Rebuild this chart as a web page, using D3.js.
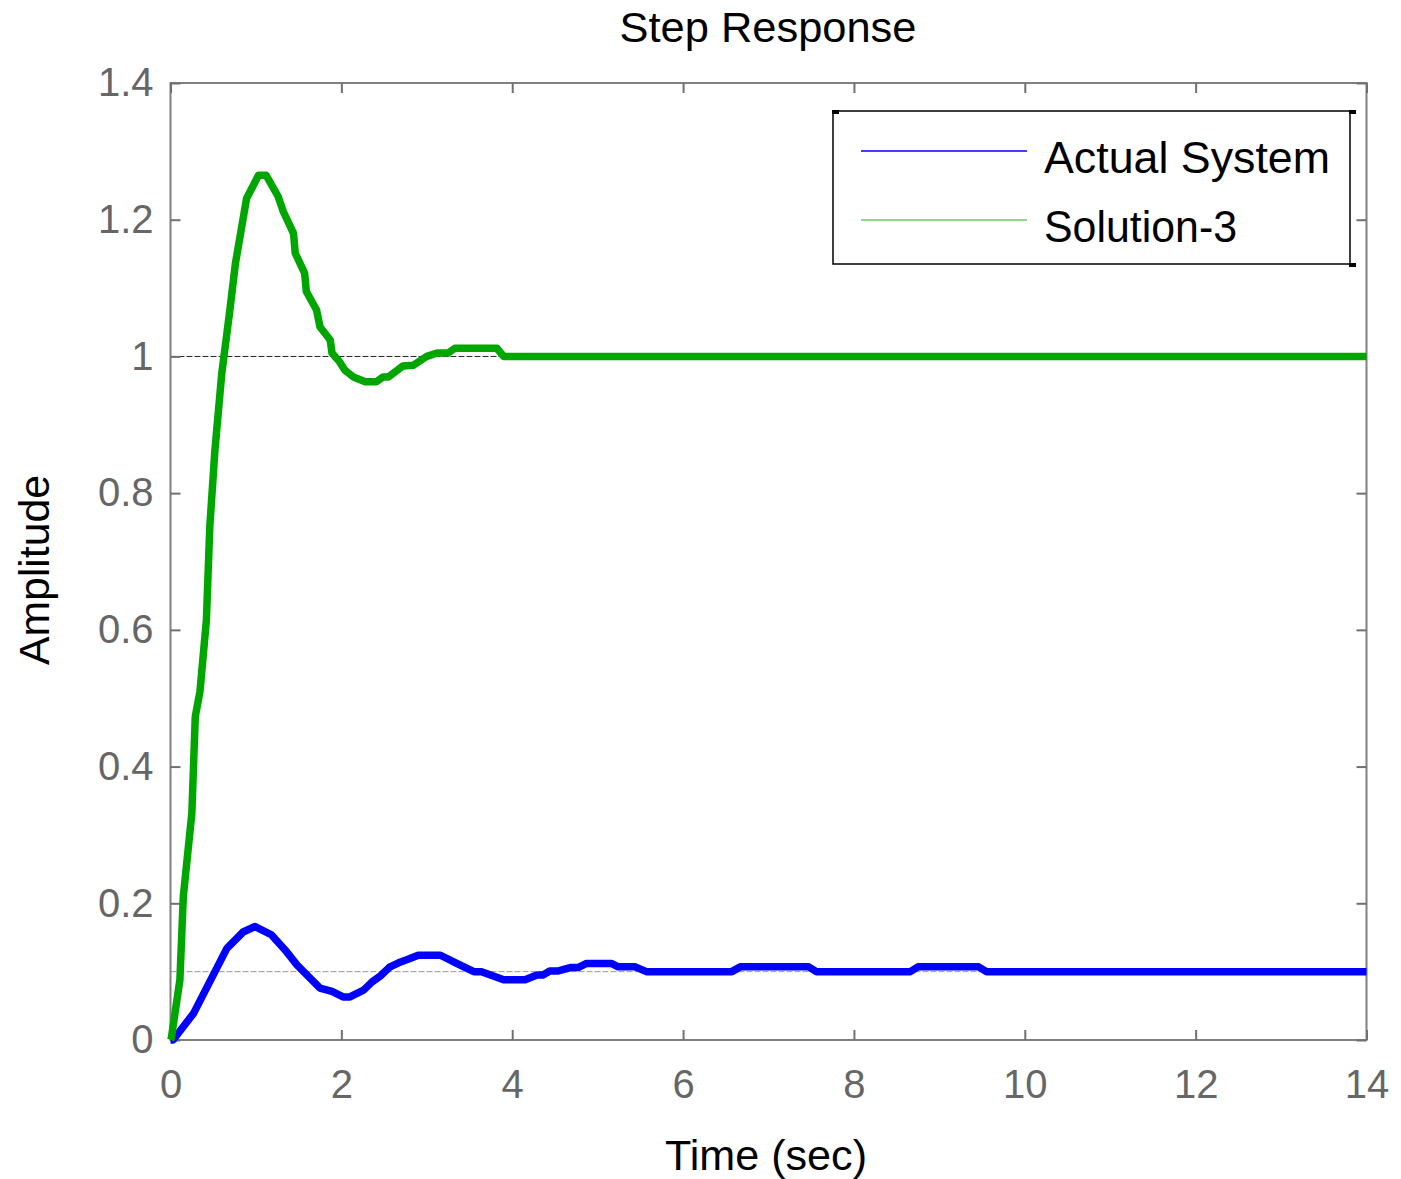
<!DOCTYPE html>
<html>
<head>
<meta charset="utf-8">
<script src="https://cdn.jsdelivr.net/npm/d3@7"></script>
<style>
  body { margin: 0; background: #fff; }
  text { font-family: "Liberation Sans", Arial, sans-serif; }
</style>
</head>
<body>
<svg id="drawing_region"></svg>
<script>
// step response samples
const actualT = [0, 0.03, 0.27, 0.66, 0.85, 0.99, 1.18, 1.36, 1.48, 1.75, 1.89, 2.02, 2.10, 2.26, 2.36, 2.45, 2.57, 2.67, 2.78, 2.90, 3.16, 3.35, 3.55, 3.64, 3.90, 4.15, 4.29, 4.36, 4.44, 4.54, 4.68, 4.77, 4.87, 5.16, 5.24, 5.44, 5.57, 6.57, 6.67, 7.47, 7.56, 8.66, 8.75, 9.46, 9.55, 14];
const actualY = [0, 0, 0.039, 0.134, 0.158, 0.166, 0.154, 0.129, 0.110, 0.076, 0.071, 0.063, 0.063, 0.073, 0.085, 0.093, 0.107, 0.113, 0.118, 0.124, 0.124, 0.112, 0.100, 0.100, 0.088, 0.088, 0.095, 0.095, 0.101, 0.101, 0.106, 0.106, 0.112, 0.112, 0.107, 0.107, 0.100, 0.100, 0.107, 0.107, 0.100, 0.100, 0.107, 0.107, 0.100, 0.100];

const solT = [0, 0.01, 0.11, 0.15, 0.25, 0.29, 0.345, 0.42, 0.46, 0.52, 0.60, 0.69, 0.76, 0.89, 1.03, 1.12, 1.26, 1.32, 1.44, 1.46, 1.57, 1.59, 1.71, 1.75, 1.87, 1.89, 1.98, 2.04, 2.14, 2.28, 2.41, 2.49, 2.55, 2.72, 2.84, 3.00, 3.12, 3.25, 3.33, 3.82, 3.90, 14];
const solY = [0, 0.003, 0.088, 0.21, 0.332, 0.473, 0.51, 0.614, 0.751, 0.863, 0.975, 1.063, 1.136, 1.231, 1.265, 1.265, 1.234, 1.212, 1.180, 1.151, 1.122, 1.095, 1.068, 1.043, 1.024, 1.005, 0.992, 0.980, 0.970, 0.963, 0.963, 0.970, 0.970, 0.986, 0.987, 1.000, 1.005, 1.005, 1.012, 1.012, 1.000, 1.000];

const finalValues = [0.1, 1];
const xTicks = [0, 2, 4, 6, 8, 10, 12, 14];
const yTicks = [0, 0.2, 0.4, 0.6, 0.8, 1, 1.2, 1.4];
const seriesNames = ['Actual System', 'Solution-3'];
const seriesColors = ['#0000ff', '#00a600'];

const W = 1401, H = 1179;
const margin = { top: 83, right: 34, bottom: 139, left: 170.5 };
const innerW = 1366.5 - margin.left;
const innerH = 1040 - margin.top;

const svg = d3.select('#drawing_region')
    .attr('width', W)
    .attr('height', H);

const g = svg.append('g')
    .attr('transform', `translate(${margin.left}, ${margin.top})`);

const x = d3.scaleLinear().domain([0, 14]).range([0, innerW]);
const y = d3.scaleLinear().domain([0, 1.4]).range([innerH, 0]);

// steady state reference lines
g.append('line')
    .attr('x1', 0).attr('x2', innerW)
    .attr('y1', y(finalValues[1])).attr('y2', y(finalValues[1]))
    .attr('stroke', '#222').attr('stroke-width', 1)
    .attr('stroke-dasharray', '6,2');
g.append('line')
    .attr('x1', 0).attr('x2', innerW)
    .attr('y1', y(finalValues[0])).attr('y2', y(finalValues[0]))
    .attr('stroke', '#999').attr('stroke-width', 1)
    .attr('stroke-dasharray', '6,2');

// frame
g.append('rect')
    .attr('width', innerW).attr('height', innerH)
    .attr('fill', 'none').attr('stroke', '#808080').attr('stroke-width', 2);

// axes with inward ticks
const tickLen = 10;
const xAxis = g.append('g').attr('transform', `translate(0, ${innerH})`)
    .call(d3.axisBottom(x).tickValues(xTicks).tickSize(-tickLen).tickPadding(30).tickFormat(d3.format('d')));
const xAxisTop = g.append('g')
    .call(d3.axisTop(x).tickValues(xTicks).tickSize(-tickLen).tickFormat(''));
const yAxis = g.append('g')
    .call(d3.axisLeft(y).tickValues(yTicks).tickSize(-tickLen).tickPadding(17).tickFormat(d => d3.format('')(+d.toFixed(1))));
const yAxisRight = g.append('g').attr('transform', `translate(${innerW}, 0)`)
    .call(d3.axisRight(y).tickValues(yTicks).tickSize(-tickLen).tickFormat(''));

[xAxis, xAxisTop, yAxis, yAxisRight].forEach(a => {
    a.select('.domain').remove();
    a.selectAll('.tick line').attr('stroke', '#707070').attr('stroke-width', 2);
    a.selectAll('.tick text')
        .attr('fill', '#666')
        .style('font-size', '40px')
        .style('font-family', '"Liberation Sans", Arial, sans-serif');
});
xAxis.selectAll('.tick text').attr('dy', '0.71em');

// curves
const line = d3.line()
    .x(d => x(d[0]))
    .y(d => y(d[1]));

const series = [
    d3.zip(actualT, actualY),
    d3.zip(solT, solY)
];

series.forEach((s, i) => {
    g.append('path')
        .datum(s)
        .attr('d', line)
        .attr('fill', 'none')
        .attr('stroke', seriesColors[i])
        .attr('stroke-width', 7.5)
        .attr('stroke-linejoin', 'round')
        .attr('stroke-linecap', 'butt');
});

// title and labels
svg.append('text')
    .attr('x', 768).attr('y', 42)
    .attr('text-anchor', 'middle')
    .style('font-size', '42px')
    .attr('textLength', 297)
    .attr('lengthAdjust', 'spacingAndGlyphs')
    .text('Step Response');

svg.append('text')
    .attr('x', 766).attr('y', 1170)
    .attr('text-anchor', 'middle')
    .style('font-size', '42px')
    .attr('textLength', 202)
    .attr('lengthAdjust', 'spacingAndGlyphs')
    .text('Time (sec)');

svg.append('text')
    .attr('transform', 'translate(49, 570) rotate(-90)')
    .attr('text-anchor', 'middle')
    .style('font-size', '42px')
    .attr('textLength', 190)
    .attr('lengthAdjust', 'spacingAndGlyphs')
    .text('Amplitude');

// legend
const legend = svg.append('g').attr('transform', 'translate(833, 111)');
legend.append('rect')
    .attr('width', 517).attr('height', 153)
    .attr('fill', '#fff').attr('stroke', '#000').attr('stroke-width', 1.5);
[[0, 0], [517, 0], [517, 153]].forEach(p => {
    legend.append('rect')
        .attr('x', p[0] - 1).attr('y', p[1] - 1)
        .attr('width', 7).attr('height', 4)
        .attr('fill', '#000');
});
seriesNames.forEach((name, i) => {
    const row = legend.append('g').attr('transform', `translate(0, ${40 + i * 69})`);
    row.append('line')
        .attr('x1', 28).attr('x2', 194)
        .attr('y1', 0).attr('y2', 0)
        .attr('stroke', seriesColors[i])
        .attr('stroke-opacity', i === 0 ? 1 : 0.6)
        .attr('stroke-width', 1.5);
    row.append('text')
        .attr('x', 211).attr('y', 0)
        .attr('dy', '0.5em')
        .style('font-size', '44px')
        .attr('textLength', 286)
        .attr('lengthAdjust', 'spacingAndGlyphs')
        .text(name)
        .attr('textLength', i === 0 ? 286 : 193);
});
</script>
</body>
</html>
